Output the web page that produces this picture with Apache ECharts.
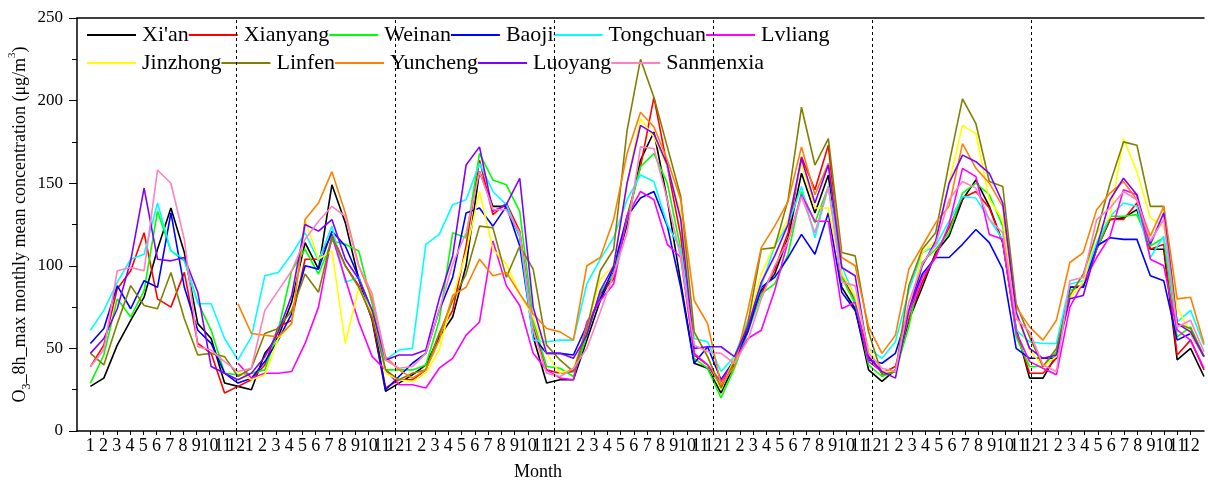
<!DOCTYPE html>
<html><head><meta charset="utf-8">
<script src="https://cdn.jsdelivr.net/npm/echarts@6/dist/echarts.min.js"></script>
<style>html,body{margin:0;padding:0;background:#fff}#c{width:1208px;height:481px}</style>
</head><body><div id="c"></div>
<script>
// Month tick labels (one per month, 7 years)
const monthTicks = [1,2,3,4,5,6,7,8,9,10,11,12];
const yearsCount = 7;
// Year separator positions on the tick axis (month index)
const separators = [12, 24, 36, 48, 60, 72];

const seriesNames = ["Xi'an","Xianyang","Weinan","Baoji","Tongchuan","Lvliang","Jinzhong","Linfen","Yuncheng","Luoyang","Sanmenxia"];
const seriesColors = ["#000000","#ff0000","#00ff00","#0000ff","#00ffff","#ff00ff","#ffff00","#808000","#ff8000","#8000ff","#ff80c0"];
const N = null;

const xian = [27,32,52,67,81,110,135,108,65,56,29,27,
  25,47,57,78,114,98,149,126,92,67,24,29,
  34,40,57,69,100,157,136,136,118,57,29,31,
  31,55,79,96,125,164,181,140,90,41,38,23,
  40,63,85,95,117,156,132,155,87,74,37,30,
  37,67,87,108,118,140,152,136,114,62,32,32,
  46,87,87,110,128,129,134,110,110,43,50,33];
const xianyang = [39,52,86,97,120,80,75,96,53,47,23,27,
  31,40,63,67,104,104,119,100,88,68,26,31,
  31,37,59,73,112,164,131,138,121,63,37,35,
  36,60,83,92,130,160,202,160,118,46,40,27,
  44,64,83,98,120,166,146,173,94,79,45,35,
  39,68,90,107,123,141,145,135,114,60,35,35,
  44,87,88,110,128,128,138,110,113,46,55,37];
const weinan = [29,46,80,69,85,133,109,103,78,61,35,34,
  35,37,61,97,110,95,115,113,109,77,37,37,
  37,40,67,120,117,168,152,149,133,67,39,38,
  33,58,84,95,128,160,168,150,110,44,38,20,
  38,60,83,89,107,145,126,148,93,77,40,33,
  36,63,102,110,120,144,150,143,124,57,39,39,
  48,85,88,110,130,130,131,112,117,57,63,45];
const baoji = [53,62,88,74,91,87,132,87,61,53,35,29,
  32,42,55,71,100,98,121,112,93,72,25,33,
  41,47,73,93,132,135,124,136,112,57,47,47,
  46,64,80,99,130,141,145,124,87,41,51,31,
  43,60,87,93,105,119,107,132,84,73,43,41,
  47,73,95,105,105,113,122,114,98,50,44,44,
  44,87,87,112,117,116,116,94,91,55,59,45];
const tongchuan = [61,73,90,104,107,138,109,104,77,77,56,43,
  57,94,96,107,120,103,124,90,93,71,43,49,
  50,113,119,137,140,162,145,137,118,55,54,55,
  55,89,104,117,140,155,151,125,110,56,54,36,
  45,67,88,112,125,148,117,148,100,80,50,44,
  54,85,108,112,127,142,141,128,116,61,54,53,
  53,89,91,114,130,138,136,105,118,66,73,52];
const lvliang = [N,N,N,N,N,N,N,N,N,N,N,41,
  32,35,35,36,53,75,118,92,66,45,37,28,
  28,26,38,44,58,66,115,88,76,47,37,32,
  31,66,79,89,130,145,140,113,105,47,40,30,
  42,56,61,85,115,143,127,127,74,78,42,36,
  36,71,93,105,125,159,154,119,116,60,42,38,
  34,75,90,105,118,146,143,104,100,61,55,38];
const jinzhong = [N,N,N,N,N,N,N,N,N,N,N,36,
  31,34,56,65,128,104,109,53,87,71,35,31,
  30,35,49,81,108,145,110,101,83,69,47,35,
  38,62,92,100,150,189,178,160,132,60,45,25,
  44,65,95,113,128,162,135,135,95,82,50,36,
  36,72,108,115,150,185,180,140,128,70,49,39,
  45,80,90,120,130,177,157,129,124,75,59,45];
const linfen = [47,40,65,88,76,74,96,68,46,47,45,33,
  38,59,62,73,95,84,118,100,87,69,37,31,
  35,37,59,79,95,124,123,93,112,98,52,43,
  36,62,97,110,182,225,202,172,142,60,45,26,
  42,65,110,111,140,196,161,177,108,106,60,34,
  36,88,110,120,162,201,186,151,148,77,57,39,
  50,82,95,120,150,175,173,136,136,65,62,45];
const yuncheng = [N,N,N,N,N,N,N,N,N,N,N,77,
  59,58,57,65,128,138,157,132,100,80,45,37,
  32,37,55,82,87,104,94,96,83,71,62,60,
  55,100,105,128,168,193,184,164,140,79,65,28,
  39,73,111,124,139,172,143,162,105,100,63,47,
  58,98,112,126,136,174,159,150,136,75,63,55,
  67,102,108,134,144,151,140,118,136,80,81,53];
const luoyang = [47,56,74,103,147,104,103,105,84,39,35,31,
  35,45,60,82,125,121,128,104,92,73,43,46,
  46,49,80,106,161,172,133,137,153,75,47,47,
  44,58,85,100,150,185,180,161,128,50,51,51,
  45,63,90,106,125,165,138,161,99,94,45,36,
  32,73,100,115,150,167,163,156,138,72,50,44,
  46,80,82,111,140,153,143,113,132,65,60,45];
const sanmenxia = [39,49,97,99,97,158,150,116,51,49,42,36,
  38,73,85,97,116,127,136,130,100,83,43,38,
  39,47,73,101,120,157,134,134,120,61,35,33,
  38,50,72,95,120,172,171,140,105,52,48,47,
  41,55,80,100,115,142,120,148,90,88,47,38,
  36,78,101,113,140,151,147,128,120,68,60,40,
  36,91,93,128,135,145,140,115,128,63,67,48];

const seriesValues = [xian,xianyang,weinan,baoji,tongchuan,lvliang,jinzhong,linfen,yuncheng,luoyang,sanmenxia];

const FONT = '"Liberation Serif", "Times New Roman", serif';
const nMonths = monthTicks.length * yearsCount;

// Tick-axis categories: blank at both ends, month numbers in between
const tickCategories = [''];
for (let y = 0; y < yearsCount; y++) monthTicks.forEach(m => tickCategories.push(String(m)));
tickCategories.push('');

const chart = echarts.init(document.getElementById('c'), null, {renderer: 'canvas'});

const series = seriesNames.map((name, k) => ({
  name: name,
  type: 'line',
  xAxisIndex: 0,
  yAxisIndex: 0,
  symbol: 'none',
  showSymbol: false,
  connectNulls: false,
  animation: false,
  lineStyle: {width: 1.6, color: seriesColors[k]},
  itemStyle: {color: seriesColors[k]},
  data: seriesValues[k].map((v, i) => [i + 1, v])
}));

series.push({
  type: 'line',
  xAxisIndex: 1,
  yAxisIndex: 0,
  data: [],
  silent: true,
  animation: false,
  markLine: {
    silent: true,
    symbol: 'none',
    animation: false,
    label: {show: false},
    lineStyle: {color: '#000', type: [3, 3], width: 1},
    data: separators.map(s => ({xAxis: s}))
  }
});

const legendCommon = {
  icon: 'rect',
  itemWidth: 49,
  itemHeight: 2,
  itemGap: 0,
  padding: 0,
  left: 87,
  textStyle: {fontFamily: FONT, fontSize: 22, color: '#000', padding: [0,0,0,1]},
  selectedMode: false
};

chart.setOption({
  animation: false,
  backgroundColor: '#fff',
  grid: {left: 77, top: 18, width: 1127, bottom: 50, containLabel: false, outerBoundsMode: 'none'},
  legend: [
    Object.assign({}, legendCommon, {top: 24, data: seriesNames.slice(0, 6)}),
    Object.assign({}, legendCommon, {top: 52, data: seriesNames.slice(6)})
  ],
  xAxis: [
    {type: 'value', min: 0, max: nMonths, show: false},
    {type: 'category', data: tickCategories, boundaryGap: false, position: 'bottom',
      axisLine: {show: true, onZero: false, lineStyle: {color: '#000', width: 1.5}},
      axisTick: {show: true, length: 4, interval: (idx) => idx >= 1 && idx <= nMonths, lineStyle: {color: '#000'}},
      axisLabel: {show: true, interval: 0, margin: 6,
        fontFamily: FONT, fontSize: 18, color: '#000'},
      splitLine: {show: false}},
    {type: 'value', min: 0, max: 1, position: 'top',
      axisLine: {show: true, lineStyle: {color: '#000', width: 1.5}},
      axisTick: {show: false}, axisLabel: {show: false}, splitLine: {show: false}}
  ],
  yAxis: {
    type: 'value', min: 0, max: 250, interval: 50,
    axisLine: {show: true, lineStyle: {color: '#000', width: 1.5}},
    axisTick: {show: true, length: 8, lineStyle: {color: '#000'}},
    minorTick: {show: true, splitNumber: 2, length: 5, lineStyle: {color: '#000'}},
    splitLine: {show: false},
    axisLabel: {fontFamily: FONT, fontSize: 17, color: '#000', margin: 14},
    name: 'O{sub|3}_8h_max monthly mean concentration (μg/m{sup|3})',
    nameLocation: 'middle',
    nameGap: 44,
    nameMoveOverlap: false,
    nameTextStyle: {
      fontFamily: FONT, fontSize: 18, color: '#000', lineHeight: 26,
      rich: {
        sub: {fontFamily: FONT, fontSize: 12, lineHeight: 12, verticalAlign: 'bottom'},
        sup: {fontFamily: FONT, fontSize: 11, lineHeight: 11, verticalAlign: 'top'}
      }
    }
  },
  graphic: [{
    type: 'text', left: 514, top: 463,
    style: {text: 'Month', fontFamily: FONT, fontSize: 18, fill: '#000'}
  }],
  series: series
});
</script></body></html>
